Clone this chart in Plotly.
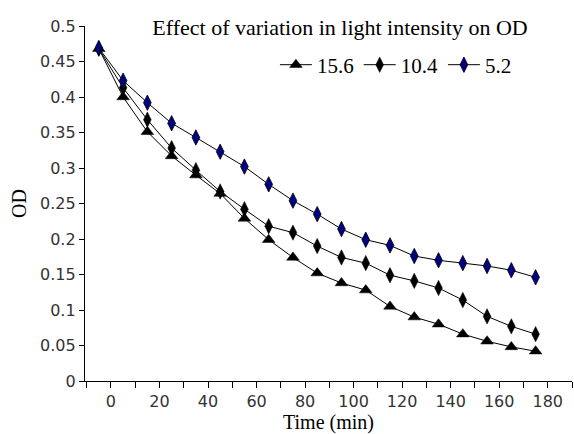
import plotly.graph_objects as go

time_min = [-5, 5, 15, 25, 35, 45, 55, 65, 75, 85, 95, 105, 115, 125, 135, 145, 155, 165, 175]
od_15_6 = [0.468, 0.400, 0.351, 0.317, 0.290, 0.264, 0.229, 0.199, 0.174, 0.152, 0.138, 0.128, 0.105, 0.090, 0.080, 0.066, 0.056, 0.048, 0.042]
od_10_4 = [0.468, 0.413, 0.368, 0.328, 0.297, 0.267, 0.242, 0.218, 0.209, 0.190, 0.174, 0.166, 0.149, 0.141, 0.131, 0.114, 0.091, 0.077, 0.066]
od_5_2 = [0.469, 0.423, 0.392, 0.363, 0.343, 0.323, 0.302, 0.277, 0.254, 0.235, 0.214, 0.199, 0.191, 0.176, 0.170, 0.166, 0.162, 0.156, 0.146]
series_names = ["15.6", "10.4", "5.2"]

x_tickvals = list(range(-10, 200, 10))
x_ticktext = [str(v) if (v >= 0 and v % 20 == 0 and v <= 180) else "" for v in x_tickvals]
y_tickvals = [0, 0.05, 0.1, 0.15, 0.2, 0.25, 0.3, 0.35, 0.4, 0.45, 0.5]
y_ticktext = ["0", "0.05", "0.1", "0.15", "0.2", "0.25", "0.3", "0.35", "0.4", "0.45", "0.5"]

serif = "Liberation Serif, Times New Roman, serif"
sans = "DejaVu Sans, Verdana, sans-serif"

fig = go.Figure()
fig.add_trace(go.Scatter(
    x=time_min, y=od_15_6, name=series_names[0], mode="lines+markers",
    line=dict(color="black", width=1),
    marker=dict(symbol="triangle-up", size=11, color="black", line=dict(color="black", width=0.5)),
))
fig.add_trace(go.Scatter(
    x=time_min, y=od_10_4, name=series_names[1], mode="lines+markers",
    line=dict(color="black", width=1),
    marker=dict(symbol="diamond-tall", size=11, color="black", line=dict(color="black", width=0.5)),
))
fig.add_trace(go.Scatter(
    x=time_min, y=od_5_2, name=series_names[2], mode="lines+markers",
    line=dict(color="black", width=1),
    marker=dict(symbol="diamond-tall", size=11, color="#000080", line=dict(color="black", width=0.8)),
))

fig.update_layout(
    width=574, height=434,
    margin=dict(l=85, r=2, t=26, b=53),
    paper_bgcolor="white", plot_bgcolor="white",
    showlegend=True,
    title=dict(text="Effect of variation in light intensity on OD",
               x=340 / 574, xanchor="center", xref="container",
               y=1 - 27 / 434, yanchor="middle", yref="container",
               font=dict(family=serif, size=22, color="black")),
    legend=dict(orientation="h", x=0.39, xanchor="left", y=0.89, yanchor="middle",
                font=dict(family=serif, size=21, color="black"),
                bgcolor="rgba(0,0,0,0)", itemwidth=32, tracegroupgap=0),
    xaxis=dict(range=[-10.7, 190], tickvals=x_tickvals, ticktext=x_ticktext,
               ticks="outside", ticklen=6, tickcolor="black", tickwidth=1,
               showline=True, linecolor="black", linewidth=1.3, showgrid=False, zeroline=False,
               tickfont=dict(family=sans, size=16, color="#333"),
               title=dict(text="Time (min)", font=dict(family=serif, size=20, color="black"), standoff=5)),
    yaxis=dict(range=[0, 0.5], tickvals=y_tickvals, ticktext=y_ticktext,
               ticks="outside", ticklen=5, tickcolor="black", tickwidth=1,
               showline=True, linecolor="black", linewidth=1.3, showgrid=False, zeroline=False,
               tickfont=dict(family=sans, size=16, color="#333"),
               title=dict(text="OD", font=dict(family=serif, size=20, color="black"), standoff=8)),
)

fig.write_html("out.html", config={"displayModeBar": False},
               post_script="document.body.style.margin='0';document.body.style.overflow='hidden';")
